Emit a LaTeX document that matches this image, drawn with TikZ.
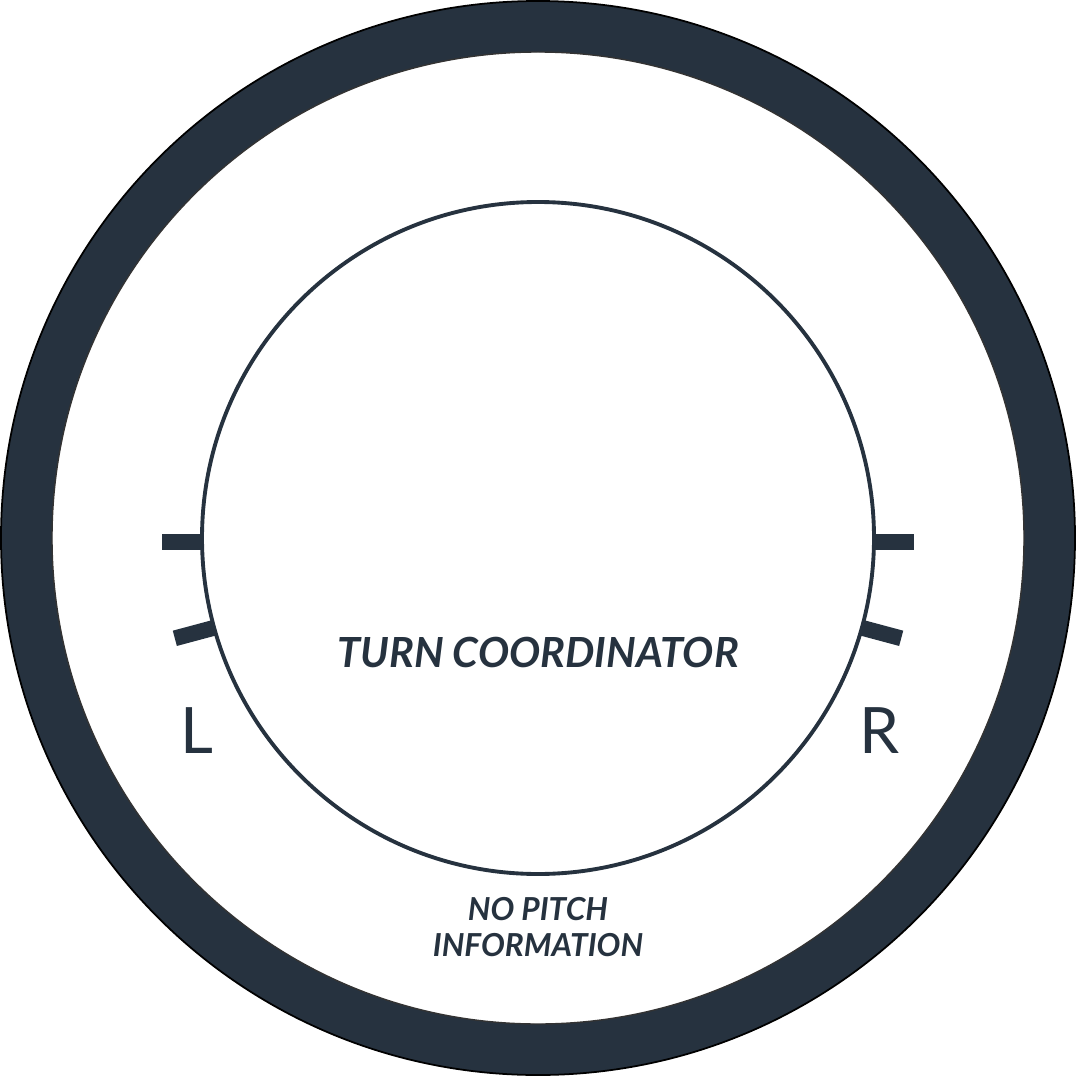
\documentclass[tikz,border=0pt]{standalone}
\usepackage{fontspec}
\setmainfont{Lato}
\usepackage{tikz}
\definecolor{panel}{HTML}{26323F}

\begin{document}
\begin{tikzpicture}[x=0.01cm,y=-0.01cm]
		\useasboundingbox (0,0) rectangle (1076,1076);
		\def\ctr{(538,538)}
		% bezel ring
		\fill[panel,even odd rule] \ctr circle (537) \ctr circle (486);
		\draw[black,line width=0.5pt] \ctr circle (537);
		\draw[black!80,line width=0.4pt] \ctr circle (486);
		% dial
		\draw[panel,line width=1.1pt] \ctr circle (336);

		% level marks and standard-rate marks
		\draw[panel,line width=4.5pt] (162,542) -- (203,542);
		\draw[panel,line width=4.5pt] (875,542) -- (914,542);
		\draw[panel,line width=4.5pt] ([shift={(165:334)}]538,541) -- ([shift={(165:376)}]538,541);
		\draw[panel,line width=4.5pt] ([shift={(15:334)}]538,541) -- ([shift={(15:376)}]538,541);

		\node[text=panel,font=\fontsize{11.8}{14}\selectfont\bfseries\itshape] (title) at (538,652) {TURN COORDINATOR};
		\node[text=panel,font=\fontsize{18.2}{20}\selectfont] (left) at (197,731) {L};
		\node[text=panel,font=\fontsize{18.2}{20}\selectfont] (right) at (880,731) {R};
		\node[text=panel,font=\fontsize{9}{10.3}\selectfont\bfseries\itshape,align=center] (pitch) at (538,927) {NO PITCH\\INFORMATION};
	\end{tikzpicture}
\end{document}
